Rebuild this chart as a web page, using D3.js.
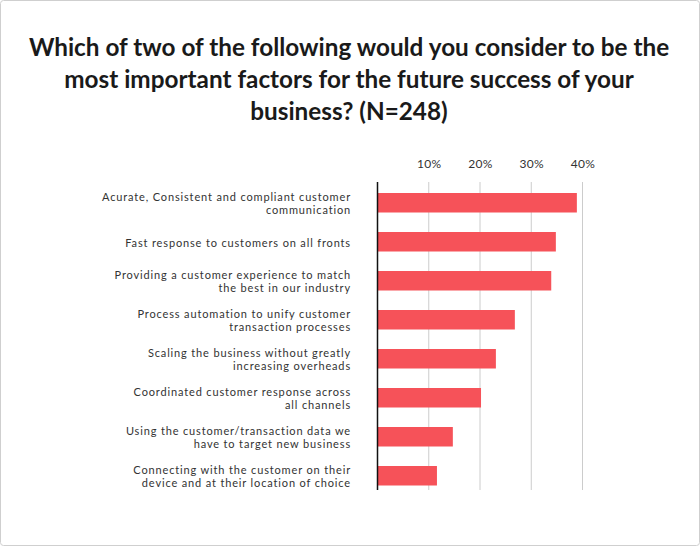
<!DOCTYPE html>
<html>
<head>
<meta charset="utf-8">
<script src="https://cdn.jsdelivr.net/npm/d3@7"></script>
<style>
  html, body { margin: 0; padding: 0; background: #fff; }
  svg { display: block; }
</style>
</head>
<body>
<svg id="chart" width="700" height="546"></svg>
<script>
const titleLines = [
  "Which of two of the following would you consider to be the",
  "most important factors for the future success of your",
  "business? (N=248)"
];
const categories = [
  ["Acurate, Consistent and compliant customer", "communication"],
  ["Fast response to customers on all fronts"],
  ["Providing a customer experience to match", "the best in our industry"],
  ["Process automation to unify customer", "transaction processes"],
  ["Scaling the business without greatly", "increasing overheads"],
  ["Coordinated customer response across", "all channels"],
  ["Using the customer/transaction data we", "have to target new business"],
  ["Connecting with the customer on their", "device and at their location of choice"]
];
const values = [38.9, 34.8, 33.9, 26.8, 23.1, 20.2, 14.7, 11.6];
const tickValues = [10, 20, 30, 40];
const tickLabels = ["10%", "20%", "30%", "40%"];

const svg = d3.select("#chart");
const W = 700, H = 546;
const font = "Lato, 'Open Sans', sans-serif";

svg.append("rect")
  .attr("x", 0.5).attr("y", 0.5)
  .attr("width", W - 1).attr("height", H - 1)
  .attr("rx", 3)
  .attr("fill", "#fff").attr("stroke", "#cfcfcf");

const title = svg.append("text")
  .attr("text-anchor", "middle")
  .attr("font-family", font)
  .attr("font-weight", 700)
  .attr("font-size", 24.3)
  .attr("fill", "#1a1a1a");
titleLines.forEach((t, i) => {
  title.append("tspan").attr("x", 349).attr("y", 55.5 + i * 32).text(t);
});

const x = d3.scaleLinear().domain([0, 40]).range([377.5, 582.5]);
const y = d3.scaleBand()
  .domain(d3.range(categories.length))
  .range([183.25, 495.25])
  .paddingInner(0.5).paddingOuter(0.25);

const gridTop = 182, gridBottom = 490;

// gridlines
svg.append("g").selectAll("line").data(tickValues).join("line")
  .attr("x1", d => x(d)).attr("x2", d => x(d))
  .attr("y1", gridTop).attr("y2", gridBottom)
  .attr("stroke", "#cccccc").attr("stroke-width", 1);

// top axis tick labels
const axis = d3.axisTop(x).tickValues(tickValues)
  .tickFormat((d, i) => tickLabels[i]).tickSize(0).tickPadding(0);
const ga = svg.append("g").attr("transform", "translate(0,167.5)").call(axis);
ga.select(".domain").remove();
ga.selectAll("text")
  .attr("font-family", font).attr("font-size", 12)
  .attr("letter-spacing", 0.4)
  .attr("fill", "#333");

// bars
svg.append("g").selectAll("rect").data(values).join("rect")
  .attr("x", x(0))
  .attr("y", (d, i) => y(i))
  .attr("width", d => x(d) - x(0))
  .attr("height", y.bandwidth())
  .attr("fill", "#f65259");

// baseline
svg.append("line")
  .attr("x1", x(0)).attr("x2", x(0))
  .attr("y1", gridTop).attr("y2", gridBottom)
  .attr("stroke", "#111").attr("stroke-width", 1.5);

// category labels
const labels = svg.append("g").selectAll("text").data(categories).join("text")
  .attr("text-anchor", "end")
  .attr("font-family", font)
  .attr("font-size", 11)
  .attr("letter-spacing", 0.85)
  .attr("fill", "#333");
labels.each(function(lines, i) {
  const cy = y(i) + y.bandwidth() / 2;
  const n = lines.length;
  lines.forEach((t, j) => {
    d3.select(this).append("tspan")
      .attr("x", 351)
      .attr("y", cy + (j - (n - 1) / 2) * 13.3 + 4.8)
      .text(t);
  });
});
</script>
</body>
</html>
